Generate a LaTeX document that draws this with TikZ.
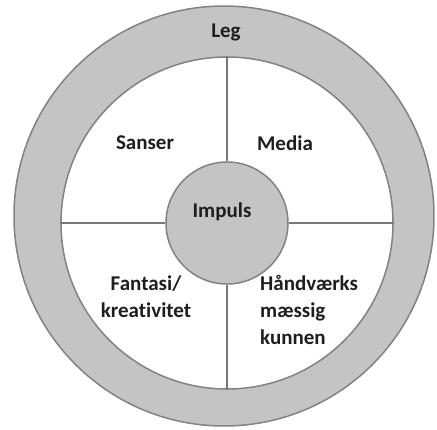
\documentclass[tikz,border=0pt]{standalone}
\usepackage{fontspec}
\setmainfont[Ligatures={NoCommon}]{Carlito}
\definecolor{ringfill}{RGB}{196,196,196}
\definecolor{ringline}{RGB}{130,130,130}
\definecolor{divline}{RGB}{120,120,120}
\definecolor{txt}{RGB}{30,30,30}
\begin{document}
\begin{tikzpicture}[x=1pt,y=-1pt,
  ring/.style={circle,draw=ringline,line width=1.5pt,inner sep=0pt},
  divider/.style={draw=divline,line width=1.2pt},
  lbl/.style={font=\bfseries\fontsize{21}{27}\selectfont,text=txt,inner sep=0pt}]
\useasboundingbox (0,0) rectangle (437,429);
\node[ring,fill=ringfill,minimum size=420pt] (outer) at (224,216) {};
\node[ring,fill=white,minimum size=332pt] (inner) at (227,223) {};
\node[ring,fill=ringfill,minimum size=122pt] (hub) at (227,223) {};
\draw[divider] (inner.north) -- (hub.north);
\draw[divider] (hub.south) -- (inner.south);
\draw[divider] (inner.west) -- (hub.west);
\draw[divider] (hub.east) -- (inner.east);
\node[lbl] (leg) at (226,32) {Leg};
\node[lbl] (sanser) at (145,143) {Sanser};
\node[lbl] (media) at (285,143) {Media};
\node[lbl] (impuls) at (222,212) {Impuls};
\node[lbl,align=center] (fantasi) at (146,297) {Fantasi/\\kreativitet};
\node[lbl,align=left,anchor=west] (haand) at (260,310) {Håndværks\\mæssig\\kunnen};
\end{tikzpicture}
\end{document}
